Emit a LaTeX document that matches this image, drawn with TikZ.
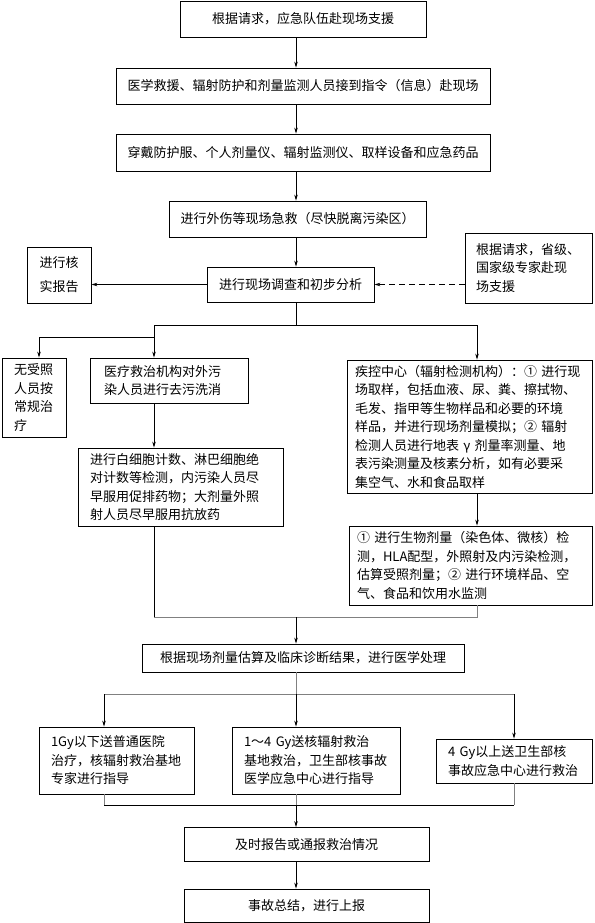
\documentclass[tikz,border=0pt]{standalone}
\usepackage{fontspec}
\newfontfamily\cjk{Noto Sans CJK SC}
\usetikzlibrary{arrows.meta}
\begin{document}
\begin{tikzpicture}[x=1pt,y=-1pt,
  every node/.style={font=\cjk\fontsize{13}{18.5}\selectfont},
  box/.style={draw, line width=0.8pt, inner sep=0pt, align=center},
  tbox/.style={draw, line width=0.8pt, inner ysep=0pt, inner xsep=#1, align=left},
  arr/.style={-{Stealth[length=6pt,width=3.5pt]}, line width=0.8pt},
  faint/.style={line width=0.8pt, draw=black!50}]
  \useasboundingbox (0,0) rectangle (594,923);
  % columns of the connectors
  \coordinate (spine) at (296,0);
  \coordinate (colN) at (39,0);
  \coordinate (colL) at (154,0);
  \coordinate (colR) at (477,0);
  \coordinate (colA) at (104,0);
  \coordinate (colC) at (514,0);

  \node[box, minimum width=246pt, minimum height=36pt] (request) at (303,19) {根据请求，应急队伍赴现场支援};
  \node[box, minimum width=374pt, minimum height=36pt] (notice) at (303,86) {医学救援、辐射防护和剂量监测人员接到指令（信息）赴现场};
  \node[box, minimum width=374pt, minimum height=37pt] (gear) at (303,152.5) {穿戴防护服、个人剂量仪、辐射监测仪、取样设备和应急药品};
  \node[box, minimum width=257pt, minimum height=36pt] (firstaid) at (297.5,219) {进行外伤等现场急救（尽快脱离污染区）};
  \node[box, minimum width=167pt, minimum height=35pt] (survey) at (290.5,284.5) {进行现场调查和初步分析};
  \node[box, minimum width=64pt, minimum height=56pt, font=\cjk\fontsize{13}{24}\selectfont] (report) at (59,275) {进行核\\实报告};
  \node[tbox=11pt, text width=105pt, minimum height=70pt] (expert) at (528.5,268) {根据请求，省级、\\国家级专家赴现\\场支援};

  \node[tbox=12pt, text width=40pt, minimum height=79pt] (normal) at (34,397.5) {无受照\\人员按\\常规治\\疗};
  \node[tbox=14pt, text width=130pt, minimum height=45pt] (decon) at (169,380.5) {医疗救治机构对外污\\染人员进行去污洗消};
  \node[tbox=12pt, text width=181pt, minimum height=78pt] (blood) at (180.5,487) {进行白细胞计数、淋巴细胞绝\\对计数等检测，内污染人员尽\\早服用促排药物；大剂量外照\\射人员尽早服用抗放药};
  \node[tbox=8pt, text width=229pt, minimum height=133pt] (cdc) at (469.5,426.5) {疾控中心（辐射检测机构）：① 进行现\\场取样，包括血液、尿、粪、擦拭物、\\毛发、指甲等生物样品和必要的环境\\样品，并进行现场剂量模拟；② 辐射\\检测人员进行地表 γ 剂量率测量、地\\表污染测量及核素分析，如有必要采\\集空气、水和食品取样};
  \node[tbox=8pt, text width=227pt, minimum height=79pt] (dose) at (470.5,565.5) {① 进行生物剂量（染色体、微核）检\\测，HLA配型，外照射及内污染检测，\\估算受照剂量；② 进行环境样品、空\\气、食品和饮用水监测};

  \node[box, minimum width=322pt, minimum height=28pt] (treat) at (303,658) {根据现场剂量估算及临床诊断结果，进行医学处理};
  \node[tbox=12pt, text width=131pt, minimum height=67pt] (low) at (116.5,760.5) {1Gy以下送普通医院\\治疗，核辐射救治基地\\专家进行指导};
  \node[tbox=12pt, text width=144pt, minimum height=67pt] (mid) at (316,760.5) {1～4 Gy送核辐射救治\\基地救治，卫生部核事故\\医学应急中心进行指导};
  \node[tbox=12pt, text width=132pt, minimum height=44pt] (high) at (514,761) {4 Gy以上送卫生部核\\事故应急中心进行救治};
  \node[box, minimum width=245pt, minimum height=34pt] (notify) at (306.5,844.5) {及时报告或通报救治情况};
  \node[box, minimum width=245pt, minimum height=33pt] (summary) at (306.5,905.5) {事故总结，进行上报};

  % main column
  \draw[arr] (request.south -| spine) -- (notice.north -| spine);
  \draw[arr] (notice.south -| spine) -- (gear.north -| spine);
  \draw[arr] (gear.south -| spine) -- (firstaid.north -| spine);
  \draw[arr] (firstaid.south -| spine) -- (survey.north -| spine);
  \draw[arr] (survey.west) -- (survey.west -| report.east);
  \draw[arr, dash pattern=on 6pt off 4pt] (survey.east -| expert.west) -- (survey.east);

  % first split
  \coordinate (split) at (296,325);
  \coordinate (lsplit) at (154,337);
  \draw[line width=0.8pt] (survey.south -| spine) -- (split);
  \draw[arr] (split) -| (decon.north -| colL);
  \draw[arr] (split) -| (cdc.north -| colR);
  \draw[arr] (lsplit) -| (normal.north -| colN);
  \draw[arr] (decon.south -| colL) -- (blood.north -| colL);
  \draw[arr] (cdc.south -| colR) -- (dose.north -| colR);

  % join
  \coordinate (join) at (296,617);
  \draw[line width=0.8pt] (blood.south -| colL) -- (join -| colL);
  \draw[faint] (join -| colL) -- (join -| colR) -- (dose.south -| colR);
  \draw[arr] (join) -- (treat.north -| spine);

  % second split
  \coordinate (split2) at (296,694);
  \draw[faint] (treat.south -| spine) -- (split2);
  \draw[faint] (split2 -| colA) -- (split2 -| colC);
  \draw[arr] (split2 -| colA) -- (low.north -| colA);
  \draw[arr] (split2 -| colC) -- (high.north -| colC);
  \draw[arr] (split2) -- (mid.north -| spine);

  % second join
  \coordinate (join2) at (296,805);
  \draw[faint] (low.south -| colA) -- (join2 -| colA);
  \draw[faint] (high.south -| colC) -- (join2 -| colC);
  \draw[line width=0.8pt] (join2 -| colA) -- (join2 -| colC);
  \draw[faint] (mid.south -| spine) -- (join2);
  \draw[arr] (join2) -- (notify.north -| spine);
  \draw[arr] (notify.south -| spine) -- (summary.north -| spine);
\end{tikzpicture}
\end{document}
